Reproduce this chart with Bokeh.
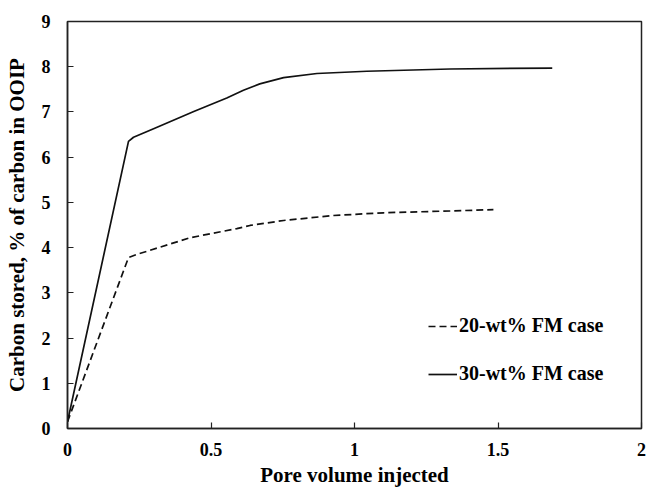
from bokeh.plotting import figure
from bokeh.models import FixedTicker, Legend, LegendItem, Range1d
from bokeh.embed import file_html
from bokeh.resources import INLINE

# Data
pv_20 = [0, 0.2125, 0.242, 0.428, 0.59, 0.636, 0.753, 0.927, 1.101, 1.333, 1.484]
c_20 = [0.15, 3.78, 3.85, 4.22, 4.42, 4.49, 4.60, 4.71, 4.77, 4.81, 4.84]

pv_30 = [0, 0.2125, 0.23, 0.30, 0.44, 0.555, 0.613, 0.67, 0.753, 0.869, 1.043, 1.333, 1.689]
c_30 = [0.15, 6.35, 6.44, 6.63, 7.01, 7.31, 7.48, 7.62, 7.76, 7.85, 7.90, 7.95, 7.97]

x_ticks = [0, 0.5, 1, 1.5, 2]
x_tick_labels = ["0", "0.5", "1", "1.5", "2"]
y_ticks = [0, 1, 2, 3, 4, 5, 6, 7, 8, 9]
y_tick_labels = [str(v) for v in y_ticks]

series_labels = ["20-wt% FM case", "30-wt% FM case"]

FONT = "Liberation Serif"

p = figure(width=648, height=489, output_backend="svg", toolbar_location=None,
           x_range=Range1d(0, 2), y_range=Range1d(0, 9),
           min_border_left=67, min_border_top=21, min_border_right=7, min_border_bottom=61)

p.background_fill_color = "white"
p.border_fill_color = "white"
p.outline_line_color = "#222222"
p.outline_line_width = 1.5
p.xgrid.visible = False
p.ygrid.visible = False

r20 = p.line(pv_20, c_20, line_color="#111111", line_width=1.7, line_dash="7 4")
r30 = p.line(pv_30, c_30, line_color="#111111", line_width=1.7)

for ax, ticks, labels in ((p.xaxis[0], x_ticks, x_tick_labels), (p.yaxis[0], y_ticks, y_tick_labels)):
    ax.ticker = FixedTicker(ticks=ticks)
    ax.major_label_overrides = {t: l for t, l in zip(ticks, labels)}
    ax.minor_tick_line_color = None
    ax.major_tick_in = 6
    ax.major_tick_out = 0
    ax.major_tick_line_color = "#222222"
    ax.major_tick_line_width = 1.2
    ax.axis_line_color = "#222222"
    ax.axis_line_width = 1.5
    ax.major_label_text_font = FONT
    ax.major_label_text_font_style = "bold"
    ax.major_label_text_font_size = "18px"
    ax.major_label_text_color = "black"
    ax.axis_label_text_font = FONT
    ax.axis_label_text_font_style = "bold"
    ax.axis_label_text_font_size = "21px"
    ax.axis_label_text_color = "black"

p.xaxis[0].axis_label = "Pore volume injected"
p.yaxis[0].axis_label = "Carbon stored, % of carbon in OOIP"
p.xaxis[0].major_label_standoff = 14
p.xaxis[0].axis_label_standoff = 4
p.yaxis[0].major_label_standoff = 17
p.yaxis[0].axis_label_standoff = 10

legend = Legend(items=[LegendItem(label=series_labels[0], renderers=[r20]),
                       LegendItem(label=series_labels[1], renderers=[r30])],
                location=(361, 43))
legend.border_line_color = None
legend.background_fill_alpha = 0
legend.padding = 0
legend.margin = 0
legend.spacing = 25
legend.glyph_width = 29
legend.glyph_height = 20
legend.label_height = 20
legend.label_standoff = 2
legend.label_text_font = FONT
legend.label_text_font_style = "bold"
legend.label_text_font_size = "20px"
legend.label_text_color = "black"
p.add_layout(legend, "center")

open("out.html", "w").write(file_html(p, INLINE))
